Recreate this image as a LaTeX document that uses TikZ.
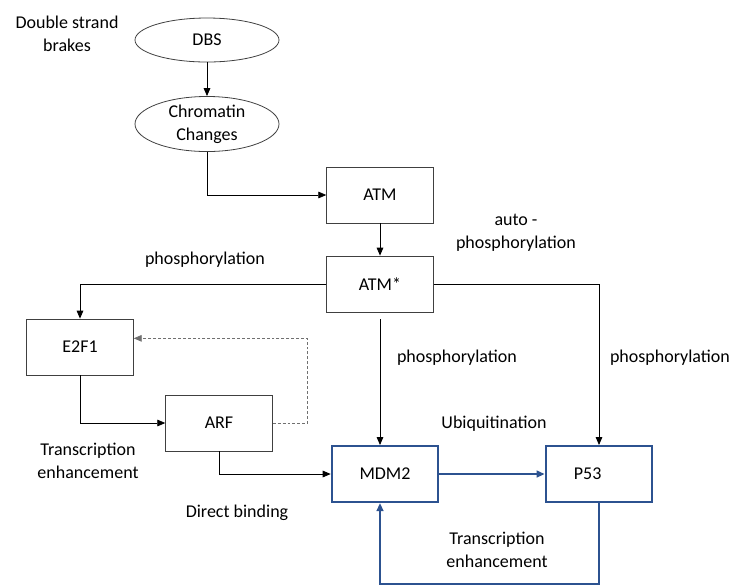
\documentclass[tikz,border=0pt]{standalone}
\usepackage{fontspec}
\setmainfont{Carlito}
\usetikzlibrary{positioning,arrows.meta,shapes.geometric}
\definecolor{pwblue}{HTML}{2C5290}
\definecolor{pwgray}{HTML}{404040}
\definecolor{pwdash}{HTML}{707070}

\begin{document}
\begin{tikzpicture}[x=0.75pt,y=-0.75pt,font=\fontsize{13.5}{17.5}\selectfont,
  ev/.style={ellipse,draw=pwgray,line width=0.6pt,inner sep=0pt,minimum width=108pt,align=center},
  prot/.style={rectangle,draw=pwgray,line width=0.6pt,minimum width=80pt,minimum height=42pt,align=center},
  hub/.style={prot,draw=pwblue,line width=1.5pt},
  lbl/.style={align=center,inner sep=1pt},
  ar/.style={-{Triangle[length=6pt,width=5pt]},line width=0.6pt},
  arb/.style={ar,pwblue,line width=1.5pt},
  fb/.style={ar,pwdash,dash pattern=on 2.2pt off 1.5pt}]
\useasboundingbox (0,0) rectangle (734,587);
% ---- damage signal ----
\node[ev,minimum height=33pt] (dbs) at (207,40) {DBS};
\node[ev,minimum height=41pt] (chrom) at (207,124) {Chromatin\\Changes};
\node[prot] (atm) at (380,195) {ATM};
\node[prot] (atms) at (380,284) {ATM*};
% ---- targets ----
\node[prot] (e2f1) at (80,347) {E2F1};
\node[prot] (arf) at (219,423) {ARF};
\node[hub] (mdm2) at (385,474) {MDM2};
\node[hub] (p53) at (599,474) {P53\hspace{17pt}};
% ---- labels ----
\node[lbl] (dsb) at (67,34) {Double strand\\brakes};
\node[lbl] (autop) at (516,233) {auto -\\phosphorylation};
\node[lbl] (phA) at (205,260) {phosphorylation};
\node[lbl] (phB) at (457,358) {phosphorylation};
\node[lbl] (phC) at (670,358) {phosphorylation};
\node[lbl] (teA) at (88,461) {Transcription\\enhancement};
\node[lbl] (bind) at (237,513) {Direct binding};
\node[lbl] (ubq) at (494,424) {Ubiquitination};
\node[lbl] (teB) at (497,550) {Transcription\\enhancement};
% ---- arrows ----
\draw[ar] (dbs) -- (chrom);
\draw[ar] (chrom.south) |- (atm.west);
\draw[ar] (atm) -- (atms);
\draw[ar] (atms.west) -| (e2f1.north);
\draw[ar] (atms.east) -| (p53.north);
\draw[ar,shorten <=5pt] (atms.south) -- (atms.south |- mdm2.north);
\draw[ar] (e2f1.south) |- (arf.west);
\draw[fb] (arf.east) -- ++(35,0) |- ([yshift=6.5pt]e2f1.east);
\draw[ar] (arf.south) |- (mdm2.west);
\draw[arb] (mdm2) -- (p53);
\draw[arb] (p53.south) -- ++(0,81) -| (atms.south |- mdm2.south);
\end{tikzpicture}
\end{document}
